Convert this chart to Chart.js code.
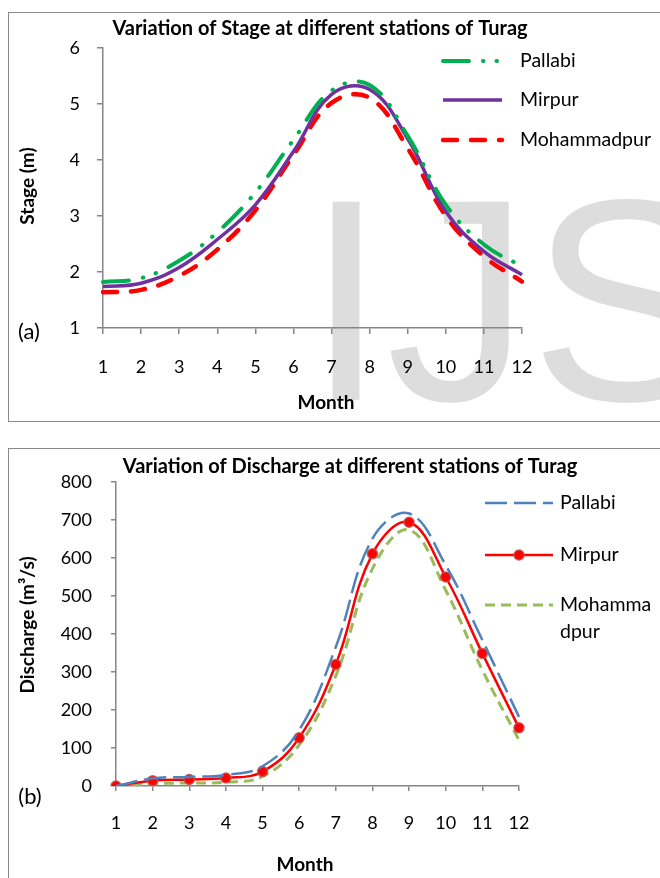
<!DOCTYPE html>
<html>
<head>
<meta charset="utf-8">
<script src="https://cdn.jsdelivr.net/npm/chart.js@4.4.1/dist/chart.umd.min.js"></script>
<style>
  html, body { margin: 0; padding: 0; background: #fff; }
  body { width: 660px; height: 878px; position: relative; overflow: hidden; }
  .box { position: absolute; left: 8px; width: 700px; border: 1.5px solid #8a8a8a; background: #fff; z-index: 0; }
  #boxA { top: 12px; height: 408px; }
  #boxB { top: 448px; height: 500px; }
  #mark { position: absolute; left: 306px; top: 156px; font: 288px 'Liberation Sans', Arial, sans-serif;
          line-height: 1; color: #dddddd; white-space: nowrap; z-index: 1; }
  canvas { position: absolute; left: 0; z-index: 2; }
  #stageChart { top: 0; }
  #dischargeChart { top: 440px; }
</style>
</head>
<body>
<div class="box" id="boxA"></div>
<div class="box" id="boxB"></div>
<div id="mark">IJSER</div>
<canvas id="stageChart" width="660" height="430"></canvas>
<canvas id="dischargeChart" width="660" height="438"></canvas>
<script>
// --- data ---
const months = ['1', '2', '3', '4', '5', '6', '7', '8', '9', '10', '11', '12'];

const stagePallabi     = [1.82, 1.89, 2.20, 2.71, 3.42, 4.36, 5.24, 5.34, 4.43, 3.20, 2.49, 2.10];
const stageMirpur      = [1.74, 1.80, 2.08, 2.58, 3.20, 4.15, 5.17, 5.26, 4.38, 3.08, 2.37, 1.95];
const stageMohammadpur = [1.64, 1.68, 1.93, 2.40, 3.10, 4.09, 5.02, 5.11, 4.21, 3.00, 2.28, 1.83];

const dischargePallabi     = [0, 20, 24, 29, 52, 147, 366, 651, 717, 581, 384, 182];
const dischargeMirpur      = [0, 14, 17, 21, 38, 127, 320, 611, 694, 550, 349, 153];
const dischargeMohammadpur = [0, 6, 8, 10, 25, 108, 290, 572, 674, 515, 305, 121];

const FONT = "Lato, 'Noto Sans', sans-serif";
const AXIS = '#868686';

Chart.defaults.font.family = FONT;
Chart.defaults.color = '#000';

// titles, axis titles, tag and legend drawn at fixed spots
const overlay = {
  id: 'overlay',
  afterDraw(chart, args, o) {
    const ctx = chart.ctx;
    ctx.save();
    ctx.fillStyle = '#000';
    ctx.textBaseline = 'middle';

    ctx.textAlign = 'center';
    ctx.font = 'bold ' + o.titleSize + 'px ' + FONT;
    ctx.fillText(o.title, o.titleX, o.titleY);

    ctx.font = 'bold 19px ' + FONT;
    ctx.fillText('Month', o.xTitleX, o.xTitleY);

    ctx.save();
    ctx.translate(o.yTitleX, o.yTitleY);
    ctx.rotate(-Math.PI / 2);
    ctx.fillText(o.yTitle, 0, 0);
    ctx.restore();

    ctx.font = '22px ' + FONT;
    ctx.fillText(o.tag, o.tagX, o.tagY);

    // legend
    ctx.textAlign = 'left';
    ctx.font = '19.5px ' + FONT;
    chart.data.datasets.forEach((ds, i) => {
      const y = o.legendY[i];
      ctx.save();
      ctx.strokeStyle = ds.borderColor;
      ctx.lineWidth = ds.borderWidth;
      ctx.lineCap = ds.borderCapStyle || 'butt';
      ctx.setLineDash(ds.borderDash || []);
      ctx.beginPath();
      ctx.moveTo(o.legendX1, y);
      ctx.lineTo(o.legendX2, y);
      ctx.stroke();
      ctx.restore();
      if (ds.pointRadius > 0) {
        ctx.save();
        ctx.beginPath();
        ctx.arc((o.legendX1 + o.legendX2) / 2, y, ds.pointRadius, 0, Math.PI * 2);
        ctx.fillStyle = ds.pointBackgroundColor;
        ctx.fill();
        ctx.lineWidth = ds.pointBorderWidth;
        ctx.strokeStyle = ds.pointBorderColor;
        ctx.stroke();
        ctx.restore();
      }
      ds.label.split('\n').forEach((line, k) => {
        ctx.fillText(line, o.legendText, y + k * o.legendLine);
      });
    });
    ctx.restore();
  }
};

function axisScales(yMin, yMax, yStep, yWidth, xHeight, tick, yPad, xPad) {
  return {
    x: {
      type: 'category',
      offset: false,
      afterFit: s => { s.height = xHeight; },
      border: { color: AXIS, width: 1.5 },
      grid: { drawOnChartArea: false, drawTicks: true, tickLength: tick, color: AXIS, lineWidth: 1.5 },
      ticks: { padding: xPad, font: { size: 18 }, color: '#000', maxRotation: 0 }
    },
    y: {
      min: yMin, max: yMax,
      afterFit: s => { s.width = yWidth; },
      border: { color: AXIS, width: 1.5 },
      grid: { drawOnChartArea: false, drawTicks: true, tickLength: tick, color: AXIS, lineWidth: 1.5 },
      ticks: { stepSize: yStep, padding: yPad, font: { size: 18 }, color: '#000' }
    }
  };
}

new Chart(document.getElementById('stageChart'), {
  type: 'line',
  data: {
    labels: months,
    datasets: [
      { label: 'Pallabi', data: stagePallabi, borderColor: '#00b050', borderWidth: 4,
        borderDash: [26, 14, 0.5, 13, 0.5, 14], borderCapStyle: 'round', pointRadius: 0, tension: 0.4 },
      { label: 'Mirpur', data: stageMirpur, borderColor: '#7030a0', borderWidth: 3.5,
        pointRadius: 0, tension: 0.4 },
      { label: 'Mohammadpur', data: stageMohammadpur, borderColor: '#ff0000', borderWidth: 4.5,
        borderDash: [14, 14], borderCapStyle: 'round', pointRadius: 0, tension: 0.4 }
    ]
  },
  options: {
    responsive: false,
    animation: false,
    layout: { padding: { left: 0, right: 138, top: 48, bottom: 0 } },
    scales: axisScales(1, 6, 1, 103, 102, 6, 17, 22),
    plugins: {
      legend: { display: false },
      tooltip: { enabled: false },
      overlay: {
        title: 'Variation of Stage at different stations of Turag', titleSize: 20, titleX: 320, titleY: 29,
        yTitle: 'Stage (m)', yTitleX: 28, yTitleY: 186,
        xTitleX: 326, xTitleY: 403,
        tag: '(a)', tagX: 29, tagY: 332,
        legendX1: 443, legendX2: 502, legendText: 520, legendY: [61, 100, 140], legendLine: 27
      }
    }
  },
  plugins: [overlay]
});

new Chart(document.getElementById('dischargeChart'), {
  type: 'line',
  data: {
    labels: months,
    datasets: [
      { label: 'Pallabi', data: dischargePallabi, borderColor: '#4f81bd', borderWidth: 2.5,
        borderDash: [22, 7], pointRadius: 0, tension: 0.4 },
      { label: 'Mirpur', data: dischargeMirpur, borderColor: '#ff0000', borderWidth: 2.5,
        pointRadius: 5, pointBackgroundColor: '#ff0000', pointBorderColor: 'rgba(192,80,77,0.85)',
        pointBorderWidth: 1.5, tension: 0.4 },
      { label: 'Mohamma\ndpur', data: dischargeMohammadpur, borderColor: '#9bbb59', borderWidth: 3,
        borderDash: [10, 6], pointRadius: 0, tension: 0.4 }
    ]
  },
  options: {
    responsive: false,
    animation: false,
    layout: { padding: { left: 0, right: 141, top: 42, bottom: 0 } },
    scales: axisScales(0, 800, 100, 116, 92, 5, 19, 21),
    plugins: {
      legend: { display: false },
      tooltip: { enabled: false },
      overlay: {
        title: 'Variation of Discharge at different stations of Turag', titleSize: 20, titleX: 350, titleY: 27,
        yTitle: 'Discharge (m\u00b3/s)', yTitleX: 28, yTitleY: 185,
        xTitleX: 305, xTitleY: 425,
        tag: '(b)', tagX: 30, tagY: 357,
        legendX1: 485, legendX2: 553, legendText: 560, legendY: [63, 115, 165], legendLine: 27
      }
    }
  },
  plugins: [overlay]
});
</script>
</body>
</html>
